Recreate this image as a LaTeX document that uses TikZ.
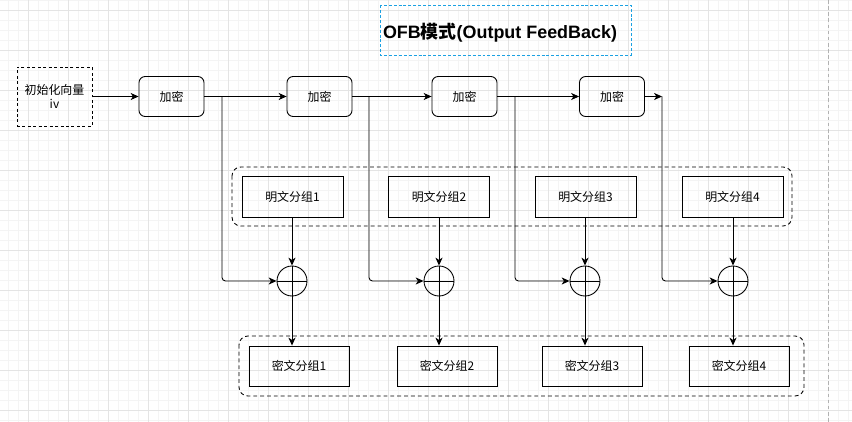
\documentclass[tikz,border=0pt]{standalone}
\usepackage{fontspec}
\setmainfont{Liberation Sans}
\newfontfamily\cjk{Noto Sans CJK SC}
\usetikzlibrary{arrows.meta}
\definecolor{gridminor}{HTML}{F4F4F4}
\definecolor{gridmajor}{HTML}{E4E4E4}
\definecolor{titleblue}{HTML}{1BA1E2}

\begin{document}
\begin{tikzpicture}[x=0.02cm,y=-0.02cm,line width=0.5pt,
  txt/.style={font=\cjk\fontsize{6.8pt}{8.5pt}\selectfont,inner sep=0pt},
  encbox/.style={txt,draw,rounded corners=3.5pt,minimum width=1.3cm,minimum height=0.8cm},
  textbox/.style={txt,draw,minimum width=2.02cm,minimum height=0.82cm},
  xorop/.style={draw,circle,minimum size=0.6cm,inner sep=0pt},
  group/.style={draw,rounded corners=5pt,dash pattern=on 2.2pt off 1.7pt},
  arr/.style={-{Stealth[length=4.5pt,width=4pt,inset=1.3pt]}}]
  \useasboundingbox (0,0) rectangle (852,422);
  % background grid
  \fill[white] (0,0) rectangle (852,422);
  \foreach \x in {8,18,...,848} \draw[gridminor,line width=0.4pt] (\x,0) -- (\x,422);
  \foreach \y in {0,10,...,420} \draw[gridminor,line width=0.4pt] (0,\y) -- (852,\y);
  \foreach \x in {28,68,...,788} \draw[gridmajor,line width=0.5pt] (\x,0) -- (\x,422);
  \foreach \y in {10,50,...,410} \draw[gridmajor,line width=0.5pt] (0,\y) -- (852,\y);
  \draw[gray!60,line width=0.5pt,dash pattern=on 2pt off 1.5pt] (828,0) -- (828,422);

  % title
  \node[font=\fontsize{10.2pt}{12pt}\selectfont\bfseries,inner sep=0pt] (title) at (500,33) {OFB{\cjk 模式}(Output FeedBack)};
  \draw[titleblue,line width=0.5pt,dash pattern=on 1.7pt off 1.1pt] (380,5) rectangle (631,55);

  % groups
  \draw[group] (232,167) rectangle (792,226);
  \draw[group] (239,336) rectangle (804,396);

  \node[txt,draw,dash pattern=on 1.7pt off 1.4pt,minimum width=1.5cm,minimum height=1.18cm,align=center] (iv) at (54.5,96.5) {初始化向量\\iv};

  \foreach \i/\ex/\bx/\px/\xx/\cx in {1/171.5/222/292.5/292/299, 2/319.5/369/439/439/447,
      3/464.5/515/585.5/585/592, 4/612/662/732.5/733/739} {
    \node[encbox] (enc\i) at (\ex,96.5) {加密};
    \coordinate (t\i) at (\bx,96.5);
    \node[textbox] (p\i) at (\px,196.5) {明文分组\i};
    \node[xorop] (x\i) at (\xx,281) {};
    \draw (x\i.north) -- (x\i.south) (x\i.west) -- (x\i.east);
    \node[textbox,minimum width=2cm,minimum height=0.8cm] (c\i) at (\cx,366) {密文分组\i};
    \draw[arr,rounded corners=2pt] (t\i) |- (x\i.west);
    \draw[arr] (p\i.south -| x\i) -- (x\i.north);
    \draw[arr] (x\i.south) -- (x\i.south |- c\i.north);
  }

  \draw[arr] (iv) -- (enc1);
  \draw[arr] (enc1) -- (enc2);
  \draw[arr] (enc2) -- (enc3);
  \draw[arr] (enc3) -- (enc4);
  \draw[arr] (enc4) -- (t4);
\end{tikzpicture}
\end{document}
